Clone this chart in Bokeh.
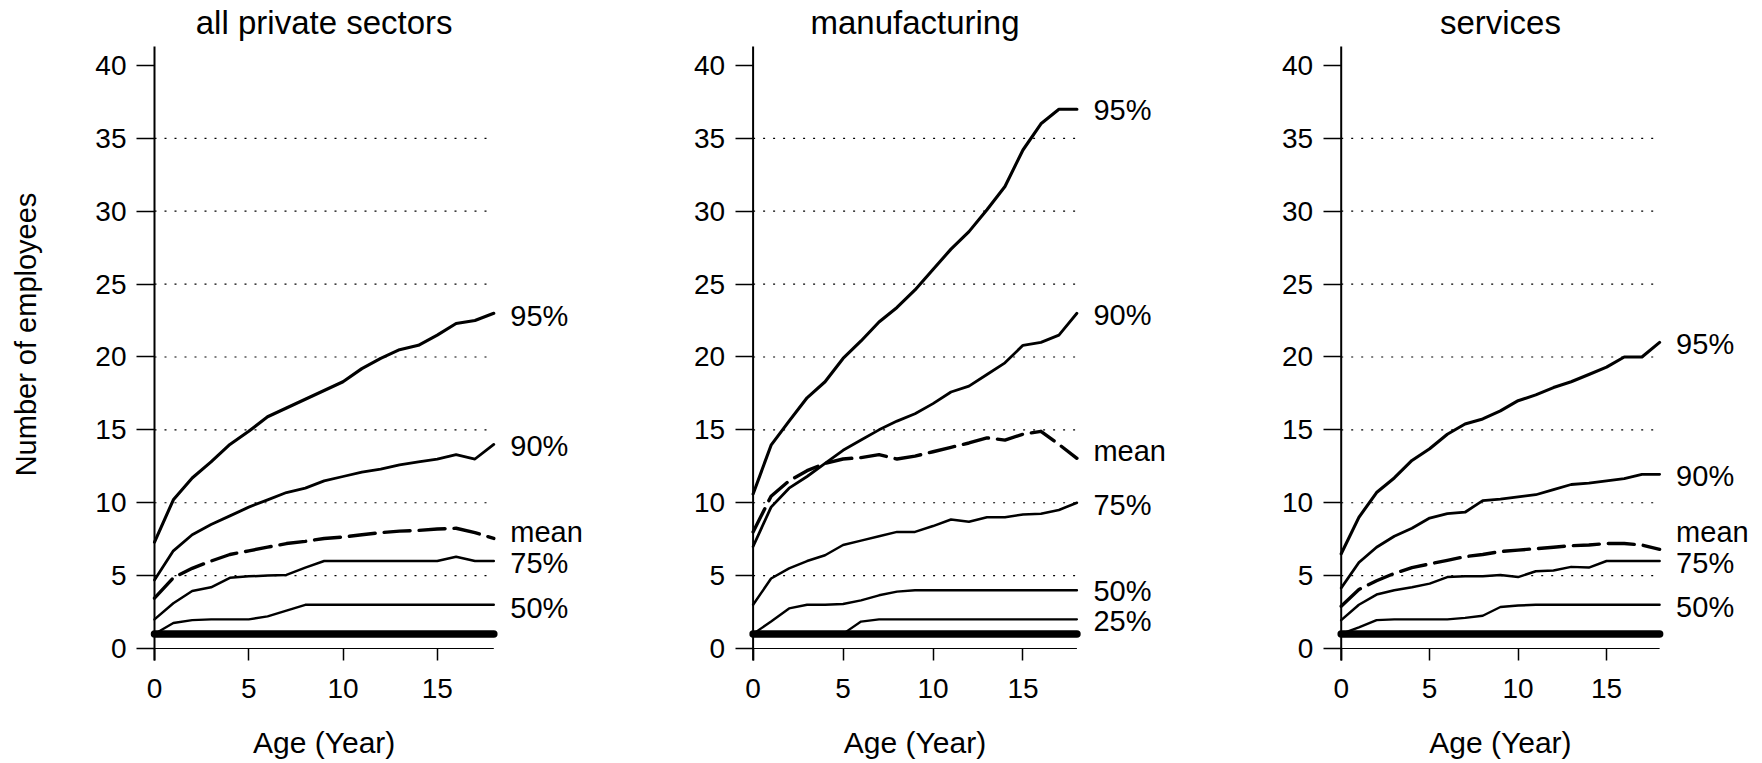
import math
from bokeh.plotting import figure
from bokeh.layouts import row
from bokeh.models import Label, FixedTicker, Range1d
from bokeh.embed import file_html
from bokeh.resources import INLINE

# ---------------- data ----------------
ages = [0, 1, 2, 3, 4, 5, 6, 7, 8, 9, 10, 11, 12, 13, 14, 15, 16, 17, 18]

panel_titles = ["all private sectors", "manufacturing", "services"]

# all private sectors
all_p95 = [7.3, 10.2, 11.7, 12.8, 14.0, 14.9, 15.9, 16.5, 17.1, 17.7, 18.3, 19.2, 19.9, 20.5, 20.8, 21.5, 22.3, 22.5, 23.0]
all_p90 = [4.7, 6.7, 7.8, 8.5, 9.1, 9.7, 10.2, 10.7, 11.0, 11.5, 11.8, 12.1, 12.3, 12.6, 12.8, 13.0, 13.3, 13.0, 14.0]
all_mean = [3.45, 4.85, 5.5, 6.0, 6.45, 6.7, 6.95, 7.2, 7.35, 7.55, 7.65, 7.8, 7.95, 8.05, 8.1, 8.2, 8.25, 7.95, 7.55]
all_p75 = [2.0, 3.1, 3.95, 4.2, 4.85, 4.95, 5.0, 5.05, 5.55, 6.0, 6.0, 6.0, 6.0, 6.0, 6.0, 6.0, 6.3, 6.0, 6.0]
all_p50 = [1.0, 1.75, 1.95, 2.0, 2.0, 2.0, 2.2, 2.6, 3.0, 3.0, 3.0, 3.0, 3.0, 3.0, 3.0, 3.0, 3.0, 3.0, 3.0]
all_p25 = [1, 1, 1, 1, 1, 1, 1, 1, 1, 1, 1, 1, 1, 1, 1, 1, 1, 1, 1]
all_p10 = [1, 1, 1, 1, 1, 1, 1, 1, 1, 1, 1, 1, 1, 1, 1, 1, 1, 1, 1]
all_p5 = [1, 1, 1, 1, 1, 1, 1, 1, 1, 1, 1, 1, 1, 1, 1, 1, 1, 1, 1]

# manufacturing
mfg_p95 = [10.6, 13.95, 15.6, 17.2, 18.3, 19.9, 21.1, 22.4, 23.4, 24.6, 26.0, 27.4, 28.6, 30.1, 31.7, 34.2, 36.0, 37.0, 37.0]
mfg_p90 = [7.0, 9.7, 11.0, 11.8, 12.7, 13.6, 14.3, 15.0, 15.6, 16.1, 16.8, 17.6, 18.0, 18.8, 19.6, 20.8, 21.0, 21.5, 23.0]
mfg_mean = [8.0, 10.45, 11.5, 12.2, 12.7, 13.0, 13.1, 13.3, 13.0, 13.2, 13.5, 13.8, 14.1, 14.45, 14.3, 14.7, 14.9, 14.0, 13.05]
mfg_p75 = [3.0, 4.8, 5.5, 6.0, 6.4, 7.1, 7.4, 7.7, 8.0, 8.0, 8.4, 8.85, 8.7, 9.0, 9.0, 9.2, 9.25, 9.5, 10.0]
mfg_p50 = [1.0, 1.85, 2.75, 3.0, 3.0, 3.05, 3.3, 3.65, 3.9, 4.0, 4.0, 4.0, 4.0, 4.0, 4.0, 4.0, 4.0, 4.0, 4.0]
mfg_p25 = [1, 1, 1, 1, 1, 1, 1.85, 2, 2, 2, 2, 2, 2, 2, 2, 2, 2, 2, 2]
mfg_p10 = [1, 1, 1, 1, 1, 1, 1, 1, 1, 1, 1, 1, 1, 1, 1, 1, 1, 1, 1]
mfg_p5 = [1, 1, 1, 1, 1, 1, 1, 1, 1, 1, 1, 1, 1, 1, 1, 1, 1, 1, 1]

# services
svc_p95 = [6.5, 9.0, 10.7, 11.7, 12.9, 13.7, 14.7, 15.4, 15.75, 16.3, 17.0, 17.4, 17.9, 18.3, 18.8, 19.3, 20.0, 20.0, 21.0]
svc_p90 = [4.15, 5.9, 6.95, 7.7, 8.25, 8.95, 9.25, 9.35, 10.15, 10.25, 10.4, 10.55, 10.9, 11.25, 11.35, 11.5, 11.65, 11.95, 11.95]
svc_mean = [2.9, 4.05, 4.65, 5.15, 5.55, 5.8, 6.05, 6.3, 6.45, 6.65, 6.75, 6.85, 6.95, 7.05, 7.1, 7.2, 7.2, 7.1, 6.8]
svc_p75 = [1.95, 3.0, 3.7, 4.0, 4.2, 4.45, 4.9, 4.95, 4.95, 5.05, 4.9, 5.3, 5.35, 5.6, 5.55, 6.0, 6.0, 6.0, 6.0]
svc_p50 = [1.0, 1.45, 1.95, 2.0, 2.0, 2.0, 2.0, 2.1, 2.25, 2.85, 2.95, 3.0, 3.0, 3.0, 3.0, 3.0, 3.0, 3.0, 3.0]
svc_p25 = [1, 1, 1, 1, 1, 1, 1, 1, 1, 1, 1, 1, 1, 1, 1, 1, 1, 1, 1]
svc_p10 = [1, 1, 1, 1, 1, 1, 1, 1, 1, 1, 1, 1, 1, 1, 1, 1, 1, 1, 1]
svc_p5 = [1, 1, 1, 1, 1, 1, 1, 1, 1, 1, 1, 1, 1, 1, 1, 1, 1, 1, 1]

y_ticks = [0, 5, 10, 15, 20, 25, 30, 35, 40]
grid_levels = [0, 5, 10, 15, 20, 25, 30, 35]
x_ticks = [0, 5, 10, 15]
x_title = "Age (Year)"
y_title = "Number of employees"

# which series get an end label in each panel
labelled = [
    ["95%", "90%", "mean", "75%", "50%"],
    ["95%", "90%", "mean", "75%", "50%", "25%"],
    ["95%", "90%", "mean", "75%", "50%"],
]

# ---------------- styles / layout ----------------
FONT = "Liberation Sans"
line_style = {
    "5%": dict(line_width=7.5, line_dash="solid"),
    "10%": dict(line_width=4.0, line_dash="solid"),
    "25%": dict(line_width=2.3, line_dash="solid"),
    "50%": dict(line_width=2.4, line_dash="solid"),
    "75%": dict(line_width=2.5, line_dash="solid"),
    "90%": dict(line_width=2.8, line_dash="solid"),
    "95%": dict(line_width=3.1, line_dash="solid"),
    "mean": dict(line_width=3.4, line_dash="26 9"),
}
# vertical nudges (px, + = up) of the end labels, per panel
label_nudge = [
    {"95%": -3, "90%": -2, "mean": 6, "75%": -2, "50%": -3},
    {"95%": -1, "90%": -2, "mean": 7, "75%": -2, "50%": -1, "25%": -2},
    {"95%": -2, "90%": -2, "mean": 17, "75%": -2, "50%": -2},
]
# pixel geometry of each panel: figure width, x px of age 0 inside the figure, px per year
geom = [
    (590, 154.0, 18.85),
    (590, 162.6, 17.99),
    (580, 160.7, 17.69),
]
HEIGHT = 762
ZERO_PX = 648.0       # px of y=0 from the top of the figure
PX_PER_UNIT = 14.576  # px per employee
AXIS_TOP = 41.3       # where the y-axis line stops
AXIS_BOTTOM = -0.823  # where the y-axis line / x ticks end
TITLE_MID_PX = 22.0   # vertical centre of the panel titles
XTITLE_MID_PX = 742.0  # vertical centre of the x-axis titles
YTITLE_PX = (25.5, 334.0)  # centre of the rotated y-axis title


def px_to_y(py):
    return (ZERO_PX - py) / PX_PER_UNIT


def make_panel(k, title, series):
    w, x0px, ppx = geom[k]
    xs = -x0px / ppx
    ytop = ZERO_PX / PX_PER_UNIT
    p = figure(width=w, height=HEIGHT,
               x_range=Range1d(xs, xs + w / ppx),
               y_range=Range1d(ytop - HEIGHT / PX_PER_UNIT, ytop),
               output_backend="svg", toolbar_location=None,
               min_border_left=0, min_border_right=0, min_border_top=0, min_border_bottom=0,
               outline_line_color=None, background_fill_color="white", border_fill_color="white")

    # x axis (placed at y = 0)
    p.xaxis.fixed_location = 0
    p.xaxis.ticker = FixedTicker(ticks=x_ticks)
    p.xaxis.axis_line_color = None
    p.xaxis.major_tick_in = 0
    p.xaxis.major_tick_out = 12
    p.xaxis.major_tick_line_width = 1.5
    p.xaxis.major_tick_line_color = "black"
    p.xaxis.minor_tick_line_color = None
    p.xaxis.major_label_standoff = 18
    p.xaxis.major_label_text_font = FONT
    p.xaxis.major_label_text_font_size = "28px"
    p.xaxis.major_label_text_color = "black"

    # y axis (placed at age = 0)
    p.yaxis.fixed_location = 0
    p.yaxis.ticker = FixedTicker(ticks=y_ticks)
    p.yaxis.axis_line_color = None
    p.yaxis.major_tick_in = 0
    p.yaxis.major_tick_out = 18
    p.yaxis.major_tick_line_width = 1.5
    p.yaxis.major_tick_line_color = "black"
    p.yaxis.minor_tick_line_color = None
    p.yaxis.major_label_standoff = 10
    p.yaxis.major_label_text_font = FONT
    p.yaxis.major_label_text_font_size = "28px"
    p.yaxis.major_label_text_color = "black"

    p.xgrid.visible = False
    p.ygrid.visible = False

    # dotted grid lines, spanning the ages only
    n = len(grid_levels)
    p.segment(x0=[ages[0]] * n, y0=grid_levels, x1=[ages[-1]] * n, y1=grid_levels,
              line_color="black", line_width=1.2, line_dash="2 8")
    # solid base line at 0
    p.segment(x0=[ages[0]], y0=[0], x1=[ages[-1]], y1=[0], line_color="black", line_width=1.2)
    # y axis line
    p.segment(x0=[0], y0=[AXIS_BOTTOM], x1=[0], y1=[AXIS_TOP], line_color="black", line_width=2)

    # series
    for name, vals in series:
        st = line_style[name]
        p.line(ages, vals, line_color="black", line_width=st["line_width"], line_dash=st["line_dash"],
               line_cap="round", line_join="round")

    # end labels
    for name, vals in series:
        if name in labelled[k]:
            p.add_layout(Label(x=ages[-1], y=vals[-1], x_offset=16.5, y_offset=label_nudge[k][name], text=name,
                               text_align="left", text_baseline="middle", text_font=FONT,
                               text_font_size="29px", text_color="black"))

    # panel title and x-axis title (centred over the ages)
    xc = (ages[0] + ages[-1]) / 2
    p.add_layout(Label(x=xc, y=px_to_y(TITLE_MID_PX), text=title, text_align="center",
                       text_baseline="middle", text_font=FONT, text_font_size="33px", text_color="black"))
    p.add_layout(Label(x=xc, y=px_to_y(XTITLE_MID_PX), text=x_title, text_align="center",
                       text_baseline="middle", text_font=FONT, text_font_size="30px", text_color="black"))
    if k == 0:
        p.add_layout(Label(x=(YTITLE_PX[0] - x0px) / ppx, y=px_to_y(YTITLE_PX[1]), text=y_title,
                           angle=math.pi / 2, text_align="center", text_baseline="middle",
                           text_font=FONT, text_font_size="29px", text_color="black"))
    return p


panels_series = [
    [("5%", all_p5), ("10%", all_p10), ("25%", all_p25), ("50%", all_p50), ("75%", all_p75),
     ("90%", all_p90), ("95%", all_p95), ("mean", all_mean)],
    [("5%", mfg_p5), ("10%", mfg_p10), ("25%", mfg_p25), ("50%", mfg_p50), ("75%", mfg_p75),
     ("90%", mfg_p90), ("95%", mfg_p95), ("mean", mfg_mean)],
    [("5%", svc_p5), ("10%", svc_p10), ("25%", svc_p25), ("50%", svc_p50), ("75%", svc_p75),
     ("90%", svc_p90), ("95%", svc_p95), ("mean", svc_mean)],
]

figs = [make_panel(k, panel_titles[k], panels_series[k]) for k in range(3)]
layout = row(*figs, spacing=0)

open("out.html", "w").write(file_html(layout, INLINE))
